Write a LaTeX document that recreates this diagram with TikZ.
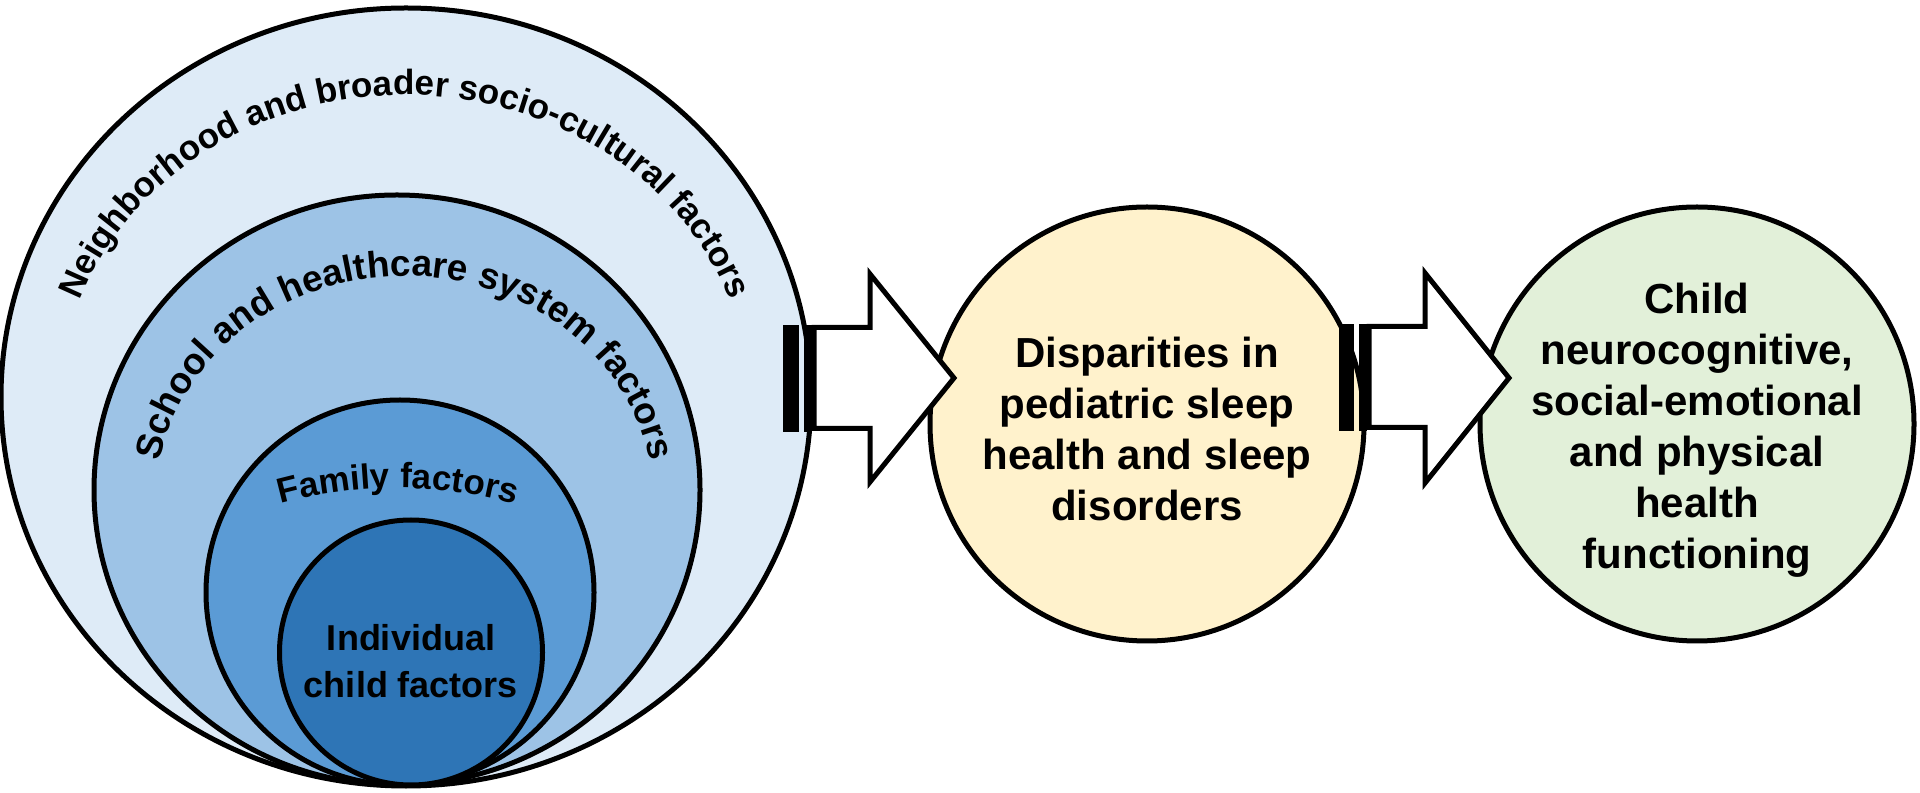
\documentclass[tikz,border=0pt]{standalone}
\usepackage{fontspec}
\setmainfont{Liberation Sans}
\usetikzlibrary{shapes.geometric,decorations.text}
\definecolor{outerfill}{HTML}{DEEBF7}
\definecolor{schoolfill}{HTML}{9DC3E6}
\definecolor{familyfill}{HTML}{5B9BD5}
\definecolor{indivfill}{HTML}{2E75B6}
\definecolor{yellowfill}{HTML}{FFF2CC}
\definecolor{greenfill}{HTML}{E2F0D9}
\newcommand\curveA{\fontsize{17.5pt}{20pt}\selectfont\bfseries}
\newcommand\curveB{\fontsize{18.5pt}{21pt}\selectfont\bfseries}
\newcommand\curveC{\fontsize{17.5pt}{21pt}\selectfont\bfseries}
\tikzset{
  ring/.style={ellipse, draw=black, line width=2.5pt, inner sep=0pt, outer sep=0pt},
  bigcirc/.style={circle, draw=black, line width=2.5pt, inner sep=0pt, minimum size=217pt},
  bigtext/.style={align=center, inner sep=0pt, font=\fontsize{21pt}{25.5pt}\selectfont\bfseries, text=black},
  indtext/.style={align=center, inner sep=0pt, font=\fontsize{18pt}{23.5pt}\selectfont\bfseries, text=black},
  blockarrow/.style={draw=black, fill=white, line width=2.5pt, line join=miter},
  stripe/.style={fill=black},
}
\begin{document}
\begin{tikzpicture}[x=0.5pt,y=0.5pt]
\useasboundingbox (0,0) rectangle (1920,792);
% nested circles
\node[ring, fill=outerfill, minimum width=405pt, minimum height=389pt] (outer) at (406,395) {};
\node[ring, fill=schoolfill, minimum width=303pt, minimum height=295pt] (school) at (397,302) {};
\node[ring, fill=familyfill, minimum width=194pt, minimum height=192.5pt] (family) at (400,199.5) {};
\node[ring, fill=indivfill, minimum width=131.5pt, minimum height=132.5pt] (indiv) at (411,139.5) {};
\node[indtext] (indivtext) at (411,131) {Individual\\child factors};
% curved labels
\path[decorate, decoration={text along path, text align=center,
  text={|\curveA|Neighborhood and broader socio-cultural factors}}]
  ([shift={(168:346 and 311.5)}]405,385.5) arc[start angle=168, end angle=12, x radius=173pt, y radius=155.75pt];
\path[decorate, decoration={text along path, text align=center,
  text={|\curveB|School and healthcare system factors}}]
  ([shift={(176:249 and 225)}]405,291) arc[start angle=176, end angle=4, x radius=124.5pt, y radius=112.5pt];
\path[decorate, decoration={text along path, text align=center,
  text={|\curveC|Family factors}}]
  ([shift={(110:441)}]398,-137) arc[start angle=110, end angle=70, radius=220.5pt];
% outcome circles
\node[bigcirc, fill=yellowfill] (disp) at (1147,368) {};
\node[bigtext] (disptext) at (1147,363) {Disparities in\\pediatric sleep\\health and sleep\\disorders};
\node[bigcirc, fill=greenfill] (outc) at (1697,368) {};
\node[bigtext] (outctext) at (1697,362) {Child\\neurocognitive,\\social-emotional\\and physical\\health\\functioning};
% striped block arrows
\fill[stripe] (783,360) rectangle (799,467);
\fill[stripe] (804,360) rectangle (812,467);
\draw[blockarrow] (814,464.5) -- (870,464.5) -- (870,518) -- (954,414) -- (870,310) -- (870,363.5) -- (814,363.5) -- cycle;
\fill[stripe] (1339,361) rectangle (1354,468);
\fill[stripe] (1359,361) rectangle (1367,468);
\draw[blockarrow] (1369,465.5) -- (1425,465.5) -- (1425,519) -- (1509,414) -- (1425,309) -- (1425,364.5) -- (1369,364.5) -- cycle;
\end{tikzpicture}
\end{document}
